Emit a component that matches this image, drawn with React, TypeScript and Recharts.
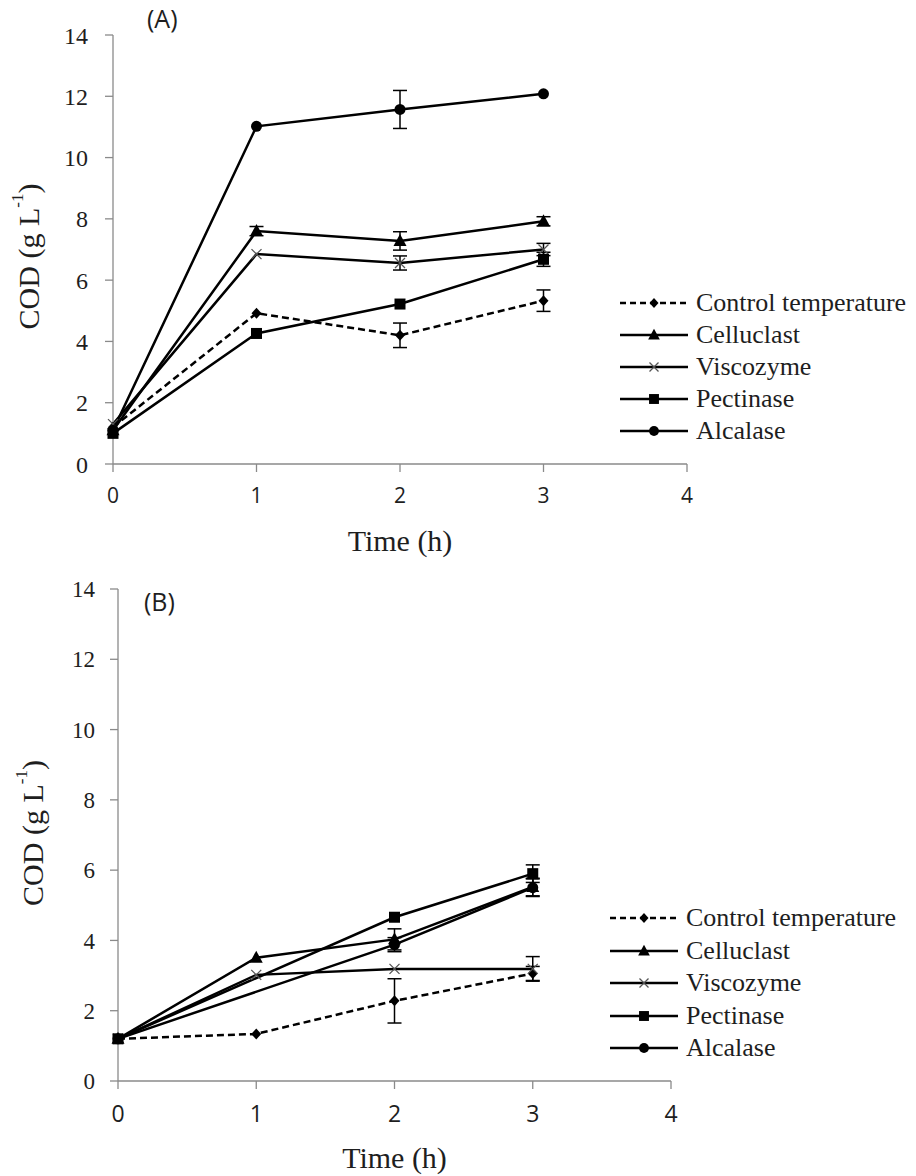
import { LineChart, Line, XAxis, YAxis, ErrorBar, Legend } from "recharts";

const SERIF = '"Liberation Serif", "Times New Roman", serif';
const SANS = '"Open Sans", "Noto Sans", sans-serif';
const AXIS = "#8a8a8a";
const INK = "#1e1e1e";

const hours = [0, 1, 2, 3];
const timeTicks = [0, 1, 2, 3, 4];
const codTicks = [0, 2, 4, 6, 8, 10, 12, 14];

const seriesKeys = ["control", "celluclast", "viscozyme", "pectinase", "alcalase"];
const seriesNames = ["Control temperature", "Celluclast", "Viscozyme", "Pectinase", "Alcalase"];
const seriesShapes = ["diamond", "triangle", "cross", "square", "circle"];

// (A)
const controlA = [1.2, 4.92, 4.2, 5.33];
const controlErrA = [null, null, 0.4, 0.35];
const celluclastA = [1.1, 7.6, 7.28, 7.92];
const celluclastErrA = [null, 0.15, 0.3, 0.15];
const viscozymeA = [1.3, 6.85, 6.56, 7.0];
const viscozymeErrA = [null, null, 0.23, 0.2];
const pectinaseA = [1.0, 4.26, 5.22, 6.68];
const pectinaseErrA = [null, null, null, 0.23];
const alcalaseA = [1.1, 11.02, 11.57, 12.08];
const alcalaseErrA = [null, null, 0.62, null];

// (B)
const controlB = [1.2, 1.34, 2.28, 3.06];
const controlErrB = [null, null, 0.63, 0.2];
const celluclastB = [1.2, 3.51, 4.03, 5.52];
const celluclastErrB = [null, null, 0.3, 0.25];
const viscozymeB = [1.2, 3.02, 3.19, 3.19];
const viscozymeErrB = [null, null, null, 0.35];
const pectinaseB = [1.2, null, 4.66, 5.9];
const pectinaseErrB = [null, null, null, 0.25];
const alcalaseB = [1.2, null, 3.88, 5.5];
const alcalaseErrB = [null, null, 0.2, 0.25];

type Row = Record<string, number | null>;

function buildRows(values: (number | null)[][], errors: (number | null)[][]): Row[] {
  return hours.map((t, i) => {
    const row: Row = { t };
    seriesKeys.forEach((k, s) => {
      row[k] = values[s][i];
      row[k + "Err"] = errors[s][i];
    });
    return row;
  });
}

const rowsA = buildRows(
  [controlA, celluclastA, viscozymeA, pectinaseA, alcalaseA],
  [controlErrA, celluclastErrA, viscozymeErrA, pectinaseErrA, alcalaseErrA]
);
const rowsB = buildRows(
  [controlB, celluclastB, viscozymeB, pectinaseB, alcalaseB],
  [controlErrB, celluclastErrB, viscozymeErrB, pectinaseErrB, alcalaseErrB]
);

function Marker({ shape, x, y, small }: { shape: string; x: number; y: number; small?: boolean }) {
  const k = small ? 0.9 : 1;
  switch (shape) {
    case "diamond":
      return <polygon points={`${x},${y - 5.5 * k} ${x + 5 * k},${y} ${x},${y + 5.5 * k} ${x - 5 * k},${y}`} fill="#000" />;
    case "triangle":
      return <polygon points={`${x},${y - 7 * k} ${x + 6.5 * k},${y + 5 * k} ${x - 6.5 * k},${y + 5 * k}`} fill="#000" />;
    case "cross":
      return (
        <path
          d={`M${x - 5 * k},${y - 5 * k}L${x + 5 * k},${y + 5 * k}M${x - 5 * k},${y + 5 * k}L${x + 5 * k},${y - 5 * k}`}
          stroke="#555"
          strokeWidth={1.3}
          fill="none"
        />
      );
    case "square":
      return <rect x={x - 5.5 * k} y={y - 5.5 * k} width={11 * k} height={11 * k} fill="#000" />;
    default:
      return <circle cx={x} cy={y} r={5.5 * k} fill="#000" />;
  }
}

const renderDot = (shape: string) => (props: any) => {
  const { cx, cy, index } = props;
  if (cx == null || cy == null || props.value == null) return <g key={`d-${index}`} />;
  return (
    <g key={`d-${index}`}>
      <Marker shape={shape} x={cx} y={cy} />
    </g>
  );
};

function LegendBox({ rowHeight }: { rowHeight: number }) {
  return (
    <div style={{ fontFamily: SERIF, fontSize: 26, color: INK }}>
      {seriesNames.map((name, s) => (
        <div key={name} style={{ display: "flex", alignItems: "center", height: rowHeight }}>
          <svg width={68} height={20} style={{ marginRight: 8, flex: "none" }}>
            <line
              x1={0}
              x2={68}
              y1={10}
              y2={10}
              stroke="#000"
              strokeWidth={2.5}
              strokeDasharray={s === 0 ? "6 4" : undefined}
            />
            <Marker shape={seriesShapes[s]} x={34} y={10} small />
          </svg>
          <span style={{ whiteSpace: "nowrap", lineHeight: 1 }}>{name}</span>
        </div>
      ))}
    </div>
  );
}

interface PanelSpec {
  tag: string;
  rows: Row[];
  top: number;
  height: number;
  plotTop: number;
  right: number;
  yAxisWidth: number;
  xAxisHeight: number;
  xTickFont: number;
  xTickMargin: number;
  yTickFont: number;
  yTickMargin: number;
  titleBaseline: number;
  yTitleX: number;
  yTitleShift: number;
  legendLeft: number;
  legendTop: number;
  legendRow: number;
  tagLeft: number;
  tagTop: number;
}

const panelA: PanelSpec = {
  tag: "(A)",
  rows: rowsA,
  top: 0,
  height: 584,
  plotTop: 35,
  right: 229,
  yAxisWidth: 113,
  xAxisHeight: 120,
  xTickFont: 21,
  xTickMargin: 16,
  yTickFont: 24,
  yTickMargin: 17,
  titleBaseline: 87,
  yTitleX: 28,
  yTitleShift: 7,
  legendLeft: 620,
  legendTop: 287,
  legendRow: 32,
  tagLeft: 147,
  tagTop: 6,
};

const panelB: PanelSpec = {
  tag: "(B)",
  rows: rowsB,
  top: 560,
  height: 616,
  plotTop: 29,
  right: 245,
  yAxisWidth: 118,
  xAxisHeight: 95,
  xTickFont: 23,
  xTickMargin: 17,
  yTickFont: 23,
  yTickMargin: 15,
  titleBaseline: 87,
  yTitleX: 32,
  yTitleShift: -2,
  legendLeft: 610,
  legendTop: 342,
  legendRow: 32.5,
  tagLeft: 144,
  tagTop: 29,
};

function Panel({ p }: { p: PanelSpec }) {
  const timeTitle = (props: any) => {
    const vb = props.viewBox;
    return (
      <text
        x={vb.x + vb.width / 2}
        y={vb.y + p.titleBaseline}
        textAnchor="middle"
        fontFamily={SERIF}
        fontSize={30}
        fill={INK}
      >
        Time (h)
      </text>
    );
  };

  const codTitle = (props: any) => {
    const vb = props.viewBox;
    const cx = vb.x + p.yTitleX;
    const cy = vb.y + vb.height / 2 + p.yTitleShift;
    return (
      <text
        x={cx}
        y={cy}
        transform={`rotate(-90 ${cx} ${cy})`}
        textAnchor="middle"
        dominantBaseline="central"
        fontFamily={SERIF}
        fontSize={30}
        fill={INK}
      >
        COD (g L
        <tspan fontSize={17} dy={-11}>
          -1
        </tspan>
        <tspan dy={11}>)</tspan>
      </text>
    );
  };

  return (
    <div style={{ position: "absolute", left: 0, top: p.top, width: 916, height: p.height }}>
      <LineChart
        width={916}
        height={p.height}
        data={p.rows}
        margin={{ top: p.plotTop, right: p.right, left: 0, bottom: 0 }}
      >
        <XAxis
          type="number"
          dataKey="t"
          domain={[0, 4]}
          ticks={timeTicks}
          interval={0}
          height={p.xAxisHeight}
          axisLine={{ stroke: AXIS, strokeWidth: 1.3 }}
          tickLine={{ stroke: AXIS, strokeWidth: 1.3 }}
          tickSize={8}
          tickMargin={p.xTickMargin}
          tick={{ fill: INK, fontSize: p.xTickFont, fontFamily: SANS }}
          label={timeTitle}
        />
        <YAxis
          type="number"
          domain={[0, 14]}
          ticks={codTicks}
          interval={0}
          width={p.yAxisWidth}
          axisLine={{ stroke: AXIS, strokeWidth: 1.3 }}
          tickLine={{ stroke: AXIS, strokeWidth: 1.3 }}
          tickSize={8}
          tickMargin={p.yTickMargin}
          tick={{ fill: INK, fontSize: p.yTickFont, fontFamily: SERIF }}
          label={codTitle}
        />
        {seriesKeys.map((k, s) => (
          <Line
            key={k}
            type="linear"
            dataKey={k}
            name={seriesNames[s]}
            stroke="#000"
            strokeWidth={2.5}
            strokeDasharray={s === 0 ? "7 4" : undefined}
            dot={renderDot(seriesShapes[s])}
            activeDot={false}
            connectNulls
            isAnimationActive={false}
          >
            <ErrorBar dataKey={k + "Err"} direction="y" width={7} stroke="#000" strokeWidth={1.5} />
          </Line>
        ))}
        <Legend
          layout="vertical"
          align="center"
          verticalAlign="middle"
          wrapperStyle={{ left: p.legendLeft, top: p.legendTop, width: 300 }}
          content={() => <LegendBox rowHeight={p.legendRow} />}
        />
      </LineChart>
      <div
        style={{
          position: "absolute",
          left: p.tagLeft,
          top: p.tagTop,
          fontFamily: SANS,
          fontSize: 25,
          color: INK,
          lineHeight: 1,
        }}
      >
        {p.tag}
      </div>
    </div>
  );
}

export default function App() {
  return (
    <div style={{ position: "absolute", left: 0, top: 0, width: 916, height: 1176, background: "#fff" }}>
      <Panel p={panelA} />
      <Panel p={panelB} />
    </div>
  );
}
